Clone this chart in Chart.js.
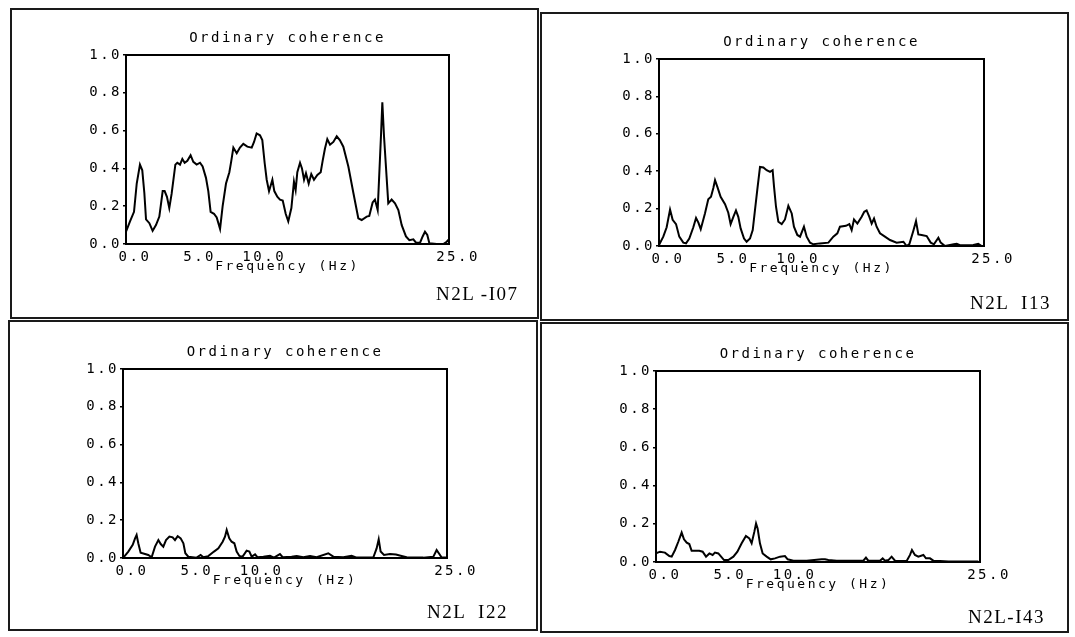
<!DOCTYPE html>
<html>
<head>
<meta charset="utf-8">
<title>Ordinary coherence</title>
<script src="https://cdn.jsdelivr.net/npm/chart.js@4.4.1/dist/chart.umd.min.js"></script>
<style>
  body { margin: 0; background: #fff; width: 1075px; height: 637px; position: relative; overflow: hidden; }
  .frame { position: absolute; border: 2px solid #1a1a1a; box-sizing: border-box; }
  .tag { position: absolute; font-family: "Liberation Serif", serif; font-size: 19px; color: #000; letter-spacing: 1.5px; white-space: pre; }
</style>
</head>
<body>
<script>
// axis ticks shared by all four plots
const X_TICKS = [0, 5, 10, 25];
const Y_TICKS = [0, 0.2, 0.4, 0.6, 0.8, 1.0];
const TITLE = 'Ordinary coherence';
const X_LABEL = 'Frequency (Hz)';

// N2L-I07
const freqI07 = [0, 0.31, 0.62, 0.83, 1.08, 1.26, 1.42, 1.55, 1.81, 2.06,
  2.32, 2.58, 2.84, 2.99, 3.17, 3.35, 3.53, 3.82, 3.97, 4.18,
  4.36, 4.54, 4.75, 5.00, 5.21, 5.47, 5.73, 5.93, 6.19, 6.37,
  6.55, 6.81, 7.02, 7.28, 7.48, 7.74, 8.00, 8.15, 8.31, 8.57,
  8.82, 9.08, 9.39, 9.73, 9.91, 10.11, 10.37, 10.55, 10.73, 10.89,
  11.07, 11.20, 11.33, 11.48, 11.71, 11.92, 12.13, 12.36, 12.56, 12.80,
  13.00, 13.13, 13.26, 13.47, 13.62, 13.78, 13.93, 14.14, 14.34, 14.55,
  14.81, 15.07, 15.22, 15.40, 15.58, 15.79, 16.05, 16.31, 16.55, 16.82,
  17.21, 17.60, 17.98, 18.24, 18.63, 18.83, 19.09, 19.27, 19.48, 19.74,
  19.84, 19.97, 20.30, 20.56, 20.82, 21.08, 21.34, 21.67, 21.93, 22.24,
  22.45, 22.76, 22.96, 23.14, 23.32, 23.48, 24.05, 24.56, 24.82, 25.0];
const cohI07 = [0.065, 0.12, 0.17, 0.32, 0.42, 0.39, 0.27, 0.13, 0.11, 0.07,
  0.10, 0.145, 0.28, 0.28, 0.25, 0.19, 0.265, 0.42, 0.43, 0.42,
  0.45, 0.43, 0.44, 0.47, 0.435, 0.42, 0.43, 0.41, 0.35, 0.28,
  0.17, 0.16, 0.14, 0.08, 0.20, 0.32, 0.38, 0.44, 0.51, 0.48,
  0.51, 0.53, 0.515, 0.51, 0.54, 0.585, 0.575, 0.55, 0.43, 0.34,
  0.28, 0.31, 0.34, 0.28, 0.25, 0.235, 0.23, 0.16, 0.12, 0.19,
  0.33, 0.285, 0.38, 0.43, 0.40, 0.34, 0.375, 0.32, 0.37, 0.34,
  0.365, 0.38, 0.44, 0.505, 0.555, 0.525, 0.54, 0.57, 0.55, 0.515,
  0.41, 0.27, 0.136, 0.127, 0.145, 0.148, 0.22, 0.235, 0.18, 0.58,
  0.75, 0.57, 0.215, 0.235, 0.215, 0.18, 0.10, 0.04, 0.02, 0.025,
  0.007, 0.007, 0.04, 0.065, 0.048, 0.004, 0, 0, 0.012, 0.025];

// N2L I13
const freqI13 = [0, 0.33, 0.59, 0.85, 1.05, 1.31, 1.56, 1.87, 2.08, 2.33,
  2.64, 2.85, 3.03, 3.21, 3.54, 3.79, 4.00, 4.18, 4.31, 4.49,
  4.74, 5.08, 5.33, 5.51, 5.72, 5.92, 6.10, 6.28, 6.54, 6.74,
  7.00, 7.21, 7.38, 7.56, 7.77, 8.03, 8.28, 8.54, 8.74, 8.85,
  9.00, 9.18, 9.44, 9.69, 9.95, 10.21, 10.38, 10.64, 10.85, 11.15,
  11.36, 11.62, 11.87, 12.38, 13.03, 13.41, 13.72, 13.92, 14.38, 14.64,
  14.82, 15.00, 15.26, 15.59, 15.79, 15.97, 16.18, 16.36, 16.54, 16.74,
  17.00, 17.38, 17.77, 18.28, 18.80, 19.05, 19.26, 19.56, 19.77, 19.95,
  20.20, 20.59, 20.90, 21.15, 21.49, 21.67, 22.00, 22.67, 22.90, 23.15,
  24.18, 24.56, 24.82];
const cohI13 = [0.005, 0.05, 0.10, 0.195, 0.14, 0.117, 0.05, 0.018, 0.014, 0.04,
  0.10, 0.15, 0.125, 0.09, 0.175, 0.25, 0.263, 0.31, 0.352, 0.316,
  0.263, 0.224, 0.178, 0.117, 0.156, 0.19, 0.156, 0.094, 0.04, 0.023,
  0.04, 0.085, 0.19, 0.30, 0.423, 0.42, 0.405, 0.396, 0.405, 0.316,
  0.21, 0.13, 0.117, 0.142, 0.215, 0.174, 0.103, 0.059, 0.05, 0.103,
  0.05, 0.018, 0.009, 0.014, 0.018, 0.05, 0.068, 0.103, 0.108, 0.117,
  0.085, 0.142, 0.12, 0.156, 0.183, 0.19, 0.156, 0.12, 0.147, 0.103,
  0.068, 0.05, 0.032, 0.018, 0.023, 0.0, 0.01, 0.08, 0.133, 0.062,
  0.059, 0.053, 0.018, 0.009, 0.044, 0.018, 0.0, 0.009, 0.012, 0.004,
  0.005, 0.012, 0.0];

// N2L I22
const freqI22 = [0, 0.41, 0.75, 0.93, 1.05, 1.18, 1.36, 1.70, 1.95, 2.21,
  2.47, 2.73, 2.91, 3.11, 3.32, 3.58, 3.83, 4.01, 4.22, 4.45,
  4.66, 4.81, 5.04, 5.68, 5.99, 6.20, 6.58, 7.02, 7.36, 7.69,
  7.87, 8.00, 8.20, 8.38, 8.59, 8.77, 8.98, 9.23, 9.54, 9.75,
  9.93, 10.19, 10.37, 10.83, 11.34, 11.65, 12.11, 12.32, 13.01, 13.40,
  13.91, 14.43, 14.94, 15.84, 16.23, 17.00, 17.64, 18.03, 19.32, 19.57,
  19.73, 19.88, 20.14, 20.60, 21.06, 21.50, 21.89, 23.17, 23.95, 24.20,
  24.41, 24.59, 24.92];
const cohI22 = [0, 0.034, 0.07, 0.104, 0.122, 0.078, 0.028, 0.021, 0.016, 0.004,
  0.06, 0.095, 0.074, 0.06, 0.095, 0.113, 0.109, 0.095, 0.116, 0.104,
  0.078, 0.025, 0.007, 0.002, 0.016, 0.004, 0.01, 0.034, 0.051, 0.086,
  0.113, 0.148, 0.104, 0.086, 0.078, 0.034, 0.011, 0.007, 0.039, 0.034,
  0.007, 0.019, 0.004, 0.007, 0.012, 0.002, 0.021, 0.004, 0.007, 0.011,
  0.004, 0.011, 0.004, 0.025, 0.007, 0.004, 0.012, 0.002, 0.004, 0.051,
  0.099, 0.034, 0.016, 0.021, 0.019, 0.011, 0.004, 0.002, 0.007, 0.042,
  0.021, 0.002, 0.002];

// N2L-I43
const freqI43 = [0, 0.31, 0.69, 1.03, 1.21, 1.47, 1.72, 1.98, 2.16, 2.37,
  2.57, 2.75, 3.01, 3.34, 3.60, 3.86, 4.12, 4.37, 4.55, 4.81,
  4.99, 5.25, 5.58, 5.97, 6.28, 6.61, 6.94, 7.20, 7.38, 7.59,
  7.72, 7.84, 8.02, 8.23, 8.54, 8.85, 9.18, 9.57, 9.95, 10.16,
  10.60, 11.63, 12.78, 13.04, 13.30, 13.94, 15.23, 16.00, 16.20, 16.38,
  17.28, 17.49, 17.67, 17.93, 18.18, 18.44, 19.34, 19.60, 19.75, 19.98,
  20.24, 20.63, 20.83, 21.14, 21.40, 21.91, 22.56, 23.97, 24.87];
const cohI43 = [0.045, 0.054, 0.049, 0.031, 0.028, 0.063, 0.106, 0.154, 0.119, 0.101,
  0.094, 0.059, 0.059, 0.059, 0.054, 0.028, 0.045, 0.037, 0.049, 0.045,
  0.031, 0.01, 0.01, 0.028, 0.054, 0.098, 0.136, 0.124, 0.098, 0.159,
  0.202, 0.176, 0.098, 0.045, 0.028, 0.014, 0.019, 0.028, 0.031, 0.014,
  0.007, 0.007, 0.014, 0.014, 0.01, 0.007, 0.007, 0.007, 0.023, 0.007,
  0.007, 0.019, 0.007, 0.01, 0.028, 0.007, 0.005, 0.037, 0.063, 0.037,
  0.028, 0.037, 0.019, 0.019, 0.007, 0.005, 0.002, 0.002, 0.002];

// page layout: outer frame, plot area inside the canvas, id tag
const panels = [
  { tag: 'N2L -I07', freq: freqI07, coh: cohI07,
    box: { x: 10, y: 8, w: 529, h: 311 }, area: { l: 116, t: 47, r: 439, b: 236 }, tagAt: { x: 436, y: 283 } },
  { tag: 'N2L  I13', freq: freqI13, coh: cohI13,
    box: { x: 540, y: 12, w: 529, h: 309 }, area: { l: 119, t: 47, r: 444, b: 234 }, tagAt: { x: 970, y: 292 } },
  { tag: 'N2L  I22', freq: freqI22, coh: cohI22,
    box: { x: 8, y: 320, w: 530, h: 311 }, area: { l: 115, t: 49, r: 439, b: 238 }, tagAt: { x: 427, y: 601 } },
  { tag: 'N2L-I43', freq: freqI43, coh: cohI43,
    box: { x: 540, y: 322, w: 529, h: 311 }, area: { l: 116, t: 49, r: 440, b: 240 }, tagAt: { x: 968, y: 606 } }
];

const INK = '#000';
const MONO = '"DejaVu Sans Mono", monospace';
const Y_AXIS_W = 44;
const X_AXIS_H = 30;
const TITLE_SIZE = 14;
const TITLE_GAP = 10;

// plotter-style wide lettering on every canvas text
const spacing = {
  id: 'spacing',
  beforeUpdate(chart) { chart.ctx.letterSpacing = '2.5px'; },
  beforeDraw(chart) { chart.ctx.letterSpacing = '2.5px'; }
};

// closed box around the plot area
const plotBox = {
  id: 'plotBox',
  afterDatasetsDraw(chart) {
    const { ctx, chartArea: a } = chart;
    ctx.save();
    ctx.strokeStyle = INK;
    ctx.lineWidth = 2;
    ctx.strokeRect(a.left, a.top, a.right - a.left, a.bottom - a.top);
    ctx.restore();
  }
};

panels.forEach(p => {
  const frame = document.createElement('div');
  frame.className = 'frame';
  frame.style.cssText = `left:${p.box.x}px;top:${p.box.y}px;width:${p.box.w}px;height:${p.box.h}px`;
  document.body.appendChild(frame);

  const canvas = document.createElement('canvas');
  canvas.width = p.box.w;
  canvas.height = p.box.h;
  canvas.style.cssText = `position:absolute;left:${p.box.x}px;top:${p.box.y}px;width:${p.box.w}px;height:${p.box.h}px`;
  document.body.appendChild(canvas);

  const tag = document.createElement('div');
  tag.className = 'tag';
  tag.textContent = p.tag;
  tag.style.left = p.tagAt.x + 'px';
  tag.style.top = p.tagAt.y + 'px';
  document.body.appendChild(tag);

  new Chart(canvas, {
    type: 'line',
    data: {
      datasets: [{
        data: p.freq.map((f, i) => ({ x: f, y: p.coh[i] })),
        borderColor: INK,
        borderWidth: 2,
        pointRadius: 0,
        tension: 0,
        fill: false
      }]
    },
    options: {
      responsive: false,
      animation: false,
      devicePixelRatio: 1,
      layout: {
        padding: {
          left: p.area.l - Y_AXIS_W,
          right: p.box.w - p.area.r,
          top: 0,
          bottom: p.box.h - p.area.b - X_AXIS_H
        }
      },
      plugins: {
        legend: { display: false },
        tooltip: { enabled: false },
        title: {
          display: true,
          text: TITLE,
          fullSize: false,
          color: INK,
          font: { family: MONO, size: TITLE_SIZE, weight: 'normal', lineHeight: 1 },
          padding: { top: p.area.t - TITLE_SIZE - TITLE_GAP, bottom: TITLE_GAP }
        }
      },
      scales: {
        x: {
          type: 'linear',
          min: 0,
          max: 25,
          afterBuildTicks: s => { s.ticks = X_TICKS.map(v => ({ value: v })); },
          afterFit: s => { s.height = X_AXIS_H; },
          grid: { display: false },
          border: { display: false },
          ticks: {
            color: INK,
            font: { family: MONO, size: 14 },
            padding: -3,
            labelOffset: 9,
            maxRotation: 0,
            autoSkip: false,
            callback: v => v.toFixed(1)
          },
          title: {
            display: true,
            text: X_LABEL,
            color: INK,
            font: { family: MONO, size: 13, lineHeight: 1 },
            padding: { top: 0, bottom: 1 }
          }
        },
        y: {
          min: 0,
          max: 1,
          afterBuildTicks: s => { s.ticks = Y_TICKS.map(v => ({ value: v })); },
          afterFit: s => { s.width = Y_AXIS_W; },
          grid: { drawOnChartArea: false, drawTicks: true, tickLength: 3, color: INK, lineWidth: 1.5 },
          border: { display: true, color: INK, width: 2 },
          ticks: {
            color: INK,
            font: { family: MONO, size: 14 },
            padding: 1,
            callback: v => v.toFixed(1)
          }
        }
      }
    },
    plugins: [spacing, plotBox]
  });
});
</script>
</body>
</html>
